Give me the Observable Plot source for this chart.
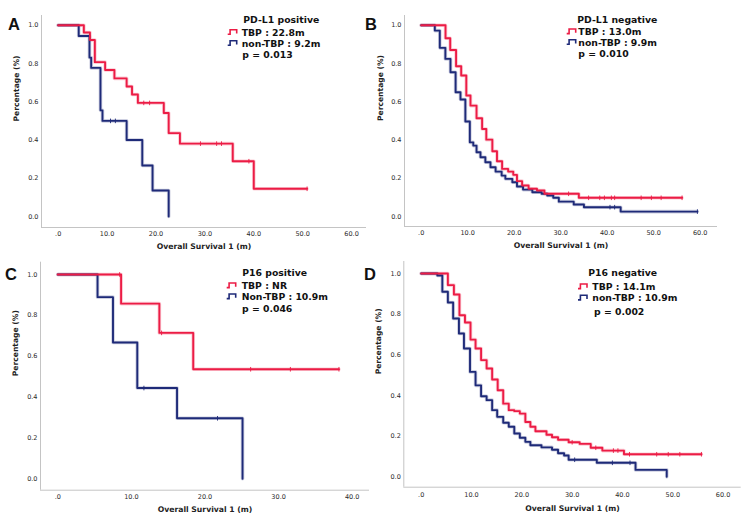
<!DOCTYPE html>
<html><head><meta charset="utf-8">
<script src="https://cdn.jsdelivr.net/npm/d3@7"></script>
<script src="https://cdn.jsdelivr.net/npm/@observablehq/plot@0.6"></script>
<style>
body{margin:0;background:#fff;}
#wrap{position:relative;width:748px;height:529px;overflow:hidden;background:#fff;}
.panel{position:absolute;}
#overlay{position:absolute;left:0;top:0;pointer-events:none;}
</style></head><body><div id="wrap"></div>
<script>
const RED = "#EC1C45", BLUE = "#1E2A78";

// ---- Panel A: PD-L1 positive ----
const aTbpT = [0, 5.25, 6.5, 7.5, 9.6, 11.5, 14.0, 15.1, 16.3, 21.6, 22.6, 24.9, 35.7, 40.0, 50.9];
const aTbpS = [1, 0.962, 0.923, 0.807, 0.766, 0.722, 0.68, 0.638, 0.594, 0.541, 0.436, 0.381, 0.289, 0.145, 0.145];
const aTbpCens = [17.5, 18.7, 29.1, 32.4, 33.4, 39.0, 50.9];
const aNonT = [0, 4.2, 6.4, 6.75, 8.65, 9.06, 14.0, 17.2, 19.3, 22.6];
const aNonS = [1, 0.944, 0.831, 0.777, 0.555, 0.5, 0.40, 0.267, 0.136, 0];
const aNonCens = [10.7, 11.7];

// ---- Panel B: PD-L1 negative ----
const bTbpT = [0, 5.23, 6.24, 7.5, 8.6, 9.7, 10.6, 11.9, 13.1, 14.0, 15.3, 16.3, 17.4, 18.7, 19.8, 20.6, 21.7, 23.1, 24.9, 26.5, 33.9, 56.1];
const bTbpS = [1, 0.932, 0.871, 0.786, 0.737, 0.633, 0.58, 0.514, 0.458, 0.402, 0.341, 0.289, 0.249, 0.235, 0.218, 0.185, 0.162, 0.145, 0.136, 0.119, 0.098, 0.098];
const bTbpCens = [31.7, 36.0, 38.4, 39.4, 40.9, 41.6, 47.3, 49.5, 51.6, 56.1];
const bNonT = [0, 2.93, 4.0, 5.2, 6.3, 7.4, 8.45, 9.5, 10.46, 11.2, 11.9, 12.75, 13.8, 14.9, 16.0, 17.3, 18.1, 19.6, 20.6, 21.9, 23.9, 25.9, 27.1, 28.4, 29.6, 32.8, 35.0, 42.9, 59.4];
const bNonS = [1, 0.972, 0.882, 0.824, 0.754, 0.65, 0.612, 0.497, 0.388, 0.371, 0.336, 0.31, 0.284, 0.258, 0.235, 0.214, 0.197, 0.179, 0.157, 0.141, 0.127, 0.119, 0.11, 0.098, 0.078, 0.063, 0.049, 0.026, 0.026];
const bNonCens = [40.6, 41.6, 59.4];

// ---- Panel C: P16 positive ----
const cTbpT = [0, 8.6, 13.8, 18.4, 38.2];
const cTbpS = [1, 0.857, 0.714, 0.536, 0.536];
const cTbpCens = [8.4, 14.1, 26.2, 31.6, 38.2];
const cNonT = [0, 5.4, 7.5, 10.8, 16.2, 25.1];
const cNonS = [1, 0.889, 0.667, 0.444, 0.296, 0];
const cNonCens = [11.7, 21.7];

// ---- Panel D: P16 negative ----
const dTbpT = [0, 5.3, 6.5, 7.6, 8.7, 9.8, 10.8, 11.9, 13.0, 14.1, 15.2, 16.3, 17.4, 18.5, 19.6, 20.7, 21.7, 22.7, 24.9, 26.0, 27.2, 29.3, 31.5, 33.7, 36.0, 40.3, 55.7];
const dTbpS = [1, 0.943, 0.897, 0.795, 0.759, 0.675, 0.631, 0.574, 0.533, 0.479, 0.426, 0.36, 0.328, 0.323, 0.311, 0.27, 0.246, 0.224, 0.207, 0.195, 0.182, 0.17, 0.162, 0.143, 0.129, 0.111, 0.111];
const dTbpCens = [30.0, 34.7, 38.2, 39.1, 41.4, 46.8, 49.1, 51.4, 55.7];
const dNonT = [0, 3.2, 4.2, 5.3, 6.35, 7.5, 8.5, 9.7, 10.8, 11.9, 13.0, 14.1, 15.1, 16.3, 17.4, 18.5, 19.6, 20.7, 21.7, 23.9, 26.0, 27.2, 28.4, 29.3, 34.9, 42.6, 48.8];
const dNonS = [1, 0.99, 0.91, 0.857, 0.779, 0.705, 0.631, 0.516, 0.45, 0.396, 0.377, 0.328, 0.295, 0.266, 0.246, 0.213, 0.192, 0.172, 0.155, 0.145, 0.133, 0.116, 0.105, 0.084, 0.069, 0.034, 0];
const dNonCens = [30.5, 38.0, 41.5];

// ---- tick labels & texts ----
const xTicks60 = [0, 10, 20, 30, 40, 50, 60];
const xTicks40 = [0, 10, 20, 30, 40];
const yTicks = [0, 0.2, 0.4, 0.6, 0.8, 1.0];
const xTitle = "Overall Survival 1 (m)";
const yTitle = "Percentage (%)";
const panelLetters = ["A", "B", "C", "D"];
const legendTitles = ["PD-L1 positive", "PD-L1 negative", "P16 positive", "P16 negative"];
const legendTbp = ["TBP : 22.8m", "TBP : 13.0m", "TBP : NR", "TBP : 14.1m"];
const legendNon = ["non-TBP : 9.2m", "non-TBP : 9.9m", "Non-TBP : 10.9m", "non-TBP : 10.9m"];
const legendP = ["p = 0.013", "p = 0.010", "p = 0.046", "p = 0.002"];

const panels = [
  {tbpT:aTbpT, tbpS:aTbpS, tbpC:aTbpCens, nonT:aNonT, nonS:aNonS, nonC:aNonCens,
   left:0, top:0, w:374, h:264, mL:41, mR:8, mT:15, mB:37,
   xDomain:[-3.41, 63.05], yDomain:[-0.0575, 1.051], xTicks:xTicks60, xTitleDy:21, yTitleDx:-25, tickPad:3.8},
  {tbpT:bTbpT, tbpS:bTbpS, tbpC:bTbpCens, nonT:bNonT, nonS:bNonS, nonC:bNonCens,
   left:374, top:0, w:374, h:264, mL:30, mR:31, mT:15, mB:38,
   xDomain:[-3.59, 63.72], yDomain:[-0.052, 1.051], xTicks:xTicks60, xTitleDy:21, yTitleDx:-24, tickPad:3.8},
  {tbpT:cTbpT, tbpS:cTbpS, tbpC:cTbpCens, nonT:cNonT, nonS:cNonS, nonC:cNonCens,
   left:0, top:258, w:374, h:271, mL:40, mR:5, mT:3.7, mB:39.3,
   xDomain:[-2.35, 42.35], yDomain:[-0.056, 1.060], xTicks:xTicks40, xTitleDy:22, yTitleDx:-25, tickPad:4.2},
  {tbpT:dTbpT, tbpS:dTbpS, tbpC:dTbpCens, nonT:dNonT, nonS:dNonS, nonC:dNonCens,
   left:374, top:258, w:374, h:271, mL:29.3, mR:7.3, mT:3, mB:42.3,
   xDomain:[-3.46, 63.6], yDomain:[-0.051, 1.059], xTicks:xTicks60, xTitleDy:24, yTitleDx:-25, tickPad:4.8}
];

function survAt(T, S, t) { let v = S[0]; for (let i = 0; i < T.length; i++) if (T[i] <= t) v = S[i]; return v; }
const tickSymbol = {draw(ctx, size) { const h = Math.sqrt(size / Math.PI); ctx.moveTo(0, -h); ctx.lineTo(0, h); }};
const fmtX = d => d === 0 ? ".0" : d.toFixed(1);

const wrap = document.getElementById("wrap");
panels.forEach(p => {
  const tbp = p.tbpT.map((t, i) => ({t, s: p.tbpS[i]}));
  const non = p.nonT.map((t, i) => ({t, s: p.nonS[i]}));
  const tbpC = p.tbpC.map(t => ({t, s: survAt(p.tbpT, p.tbpS, t)}));
  const nonC = p.nonC.map(t => ({t, s: survAt(p.nonT, p.nonS, t)}));
  const chart = Plot.plot({
    width: p.w, height: p.h,
    marginLeft: p.mL, marginRight: p.mR, marginTop: p.mT, marginBottom: p.mB,
    x: {domain: p.xDomain, ticks: p.xTicks, tickSize: 0, tickPadding: p.tickPad, tickFormat: fmtX, label: null},
    y: {domain: p.yDomain, ticks: yTicks, tickSize: 0, tickPadding: 3, tickFormat: d => d.toFixed(1), label: null},
    style: {fontFamily: "DejaVu Sans", fontSize: "6.5px", color: "#2a2a2a", background: "transparent", overflow: "visible"},
    marks: [
      Plot.ruleX([p.xDomain[0]], {stroke: "#c4c4c4", strokeWidth: 1}),
      Plot.ruleY([p.yDomain[0]], {stroke: "#c4c4c4", strokeWidth: 1}),
      Plot.line(non, {x: "t", y: "s", curve: "step-after", stroke: BLUE, strokeWidth: 3.6, strokeOpacity: 0.22}),
      Plot.line(tbp, {x: "t", y: "s", curve: "step-after", stroke: RED, strokeWidth: 3.6, strokeOpacity: 0.22}),
      Plot.line(non, {x: "t", y: "s", curve: "step-after", stroke: BLUE, strokeWidth: 1.9}),
      Plot.line(tbp, {x: "t", y: "s", curve: "step-after", stroke: RED, strokeWidth: 1.9}),
      Plot.dot(nonC, {x: "t", y: "s", symbol: tickSymbol, r: 2.3, stroke: BLUE, strokeWidth: 0.9, fill: "none"}),
      Plot.dot(tbpC, {x: "t", y: "s", symbol: tickSymbol, r: 2.3, stroke: RED, strokeWidth: 0.9, fill: "none"}),
      Plot.text([xTitle], {frameAnchor: "bottom", dy: p.xTitleDy, text: d => d, fontWeight: "bold", fontSize: 7.7, fill: "#222"}),
      Plot.text([yTitle], {frameAnchor: "left", dx: p.yTitleDx, rotate: -90, text: d => d, fontWeight: "bold", fontSize: 7.6, fill: "#222"})
    ]
  });
  chart.classList.add("panel");
  chart.style.left = p.left + "px";
  chart.style.top = p.top + "px";
  wrap.appendChild(chart);
});

// ---- overlay: panel letters and legends ----
const letterPos = [[8, 30], [365, 30], [5, 280], [364, 280]];
const legendLayout = [
  {titleX: 243.3, symX: 227.7, textX: 241.7, pX: 242.3, base: [22.7, 35.7, 46.7, 57.7]},
  {titleX: 577.3, symX: 566.7, textX: 578.3, pX: 578.3, base: [22.7, 35.0, 45.7, 56.7]},
  {titleX: 242.3, symX: 226.7, textX: 241.7, pX: 242.0, base: [275.7, 289.0, 300.0, 311.7]},
  {titleX: 588.3, symX: 578.0, textX: 592.3, pX: 594.0, base: [275.7, 290.0, 301.3, 314.7]}
];
const NS = "http://www.w3.org/2000/svg";
const ov = document.createElementNS(NS, "svg");
ov.setAttribute("id", "overlay");
ov.setAttribute("width", 748); ov.setAttribute("height", 529);
function addText(x, y, str, font) {
  const t = document.createElementNS(NS, "text");
  t.setAttribute("x", x); t.setAttribute("y", y);
  t.style.font = font; t.setAttribute("fill", "#111");
  t.textContent = str; ov.appendChild(t);
}
function addSym(x, capTop, color) {
  const path = document.createElementNS(NS, "path");
  path.setAttribute("d", `M${x},${capTop + 5.2} H${x + 2.4} V${capTop + 0.6} H${x + 9} V${capTop + 4.4}`);
  path.setAttribute("fill", "none"); path.setAttribute("stroke", color); path.setAttribute("stroke-width", 1.6);
  ov.appendChild(path);
}
panelLetters.forEach((L, i) => addText(letterPos[i][0], letterPos[i][1], L, 'bold 16.5px "Liberation Sans", Arial, sans-serif'));
legendLayout.forEach((g, i) => {
  const f = 'bold 9.3px "DejaVu Sans", sans-serif';
  addText(g.titleX, g.base[0], legendTitles[i], f);
  addText(g.textX, g.base[1], legendTbp[i], f);
  addText(g.textX, g.base[2], legendNon[i], f);
  addText(g.pX, g.base[3], legendP[i], f);
  addSym(g.symX, g.base[1] - 6.6, RED);
  addSym(g.symX, g.base[2] - 6.6, BLUE);
});
wrap.appendChild(ov);
</script></body></html>
